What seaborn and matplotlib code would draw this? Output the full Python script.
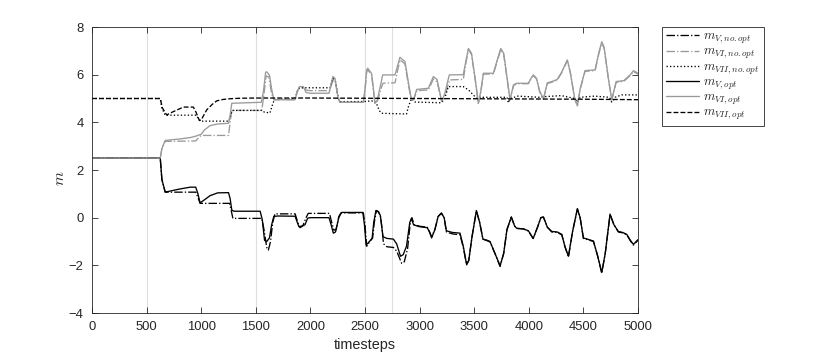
import numpy as np
import pandas as pd
import matplotlib
matplotlib.use("Agg")
import matplotlib.pyplot as plt
import seaborn as sns

# ---------------- data ----------------
# m_V, no.opt  (black dash-dot)
t_V_noopt = [0, 625, 640, 670, 950, 970, 990, 1260, 1275, 1290, 1555, 1575, 1600, 1615, 1635, 1655, 1675,
             1860, 1885, 1905, 1930, 1960, 1980, 2175, 2195, 2215, 2235, 2260, 2280, 2485, 2500, 2515, 2545,
             2570, 2585, 2605, 2625, 2645, 2670, 2700, 2760, 2790, 2836, 2860, 2890, 2915, 2930, 2950, 3000,
             3070, 3090, 3110, 3140, 3170, 3200, 3225, 3245, 3300, 3370, 3400, 3430, 3450, 3480, 3520, 3550,
             3580, 3620, 3645, 3690, 3737, 3770, 3800, 3840, 3870, 3890, 3950, 3996, 4040, 4080, 4110, 4134,
             4170, 4210, 4260, 4302, 4330, 4363, 4400, 4445, 4470, 4500, 4550, 4592, 4630, 4668, 4700, 4744,
             4780, 4820, 4860, 4897, 4930, 4958, 5000]
m_V_noopt = [2.5, 2.5, 1.6, 1.07, 1.07, 0.85, 0.6, 0.6, 0.3, -0.03, -0.03, -0.5, -1.25, -1.36, -1.0, -0.2, 0.16,
             0.16, -0.2, -0.42, -0.35, 0.0, 0.18, 0.18, -0.2, -0.52, -0.5, 0.05, 0.2, 0.2, -0.3, -1.2, -1.0,
             -0.85, -0.2, 0.3, 0.25, 0.0, -1.1, -1.22, -1.25, -1.4, -1.92, -1.85, -1.3, -0.2, 0.0, -0.3, -0.36,
             -0.4, -0.58, -0.8, -0.5, 0.05, 0.2, 0.0, -0.6, -0.68, -0.72, -1.25, -1.98, -1.8, -0.8, 0.28, -0.2,
             -0.9, -0.97, -1.02, -1.5, -2.05, -1.5, -0.5, 0.02, -0.35, -0.45, -0.47, -0.56, -0.88, -0.4, 0.0, 0.02,
             -0.4, -0.6, -0.62, -0.72, -1.2, -1.65, -0.6, 0.36, 0.0, -0.87, -0.94, -1.0, -1.6, -2.33, -1.5, 0.13,
             -0.3, -0.6, -0.64, -0.72, -0.97, -1.15, -0.95]

# m_VI, no.opt  (grey dash-dot)
t_VI_noopt = [0, 625, 640, 670, 950, 975, 1000, 1250, 1265, 1280, 1555, 1575, 1595, 1620, 1645, 1665, 1860,
              1880, 1900, 1935, 1960, 2000, 2175, 2195, 2210, 2230, 2255, 2270, 2485, 2500, 2515, 2525, 2560,
              2575, 2591, 2615, 2645, 2665, 2775, 2800, 2821, 2866, 2900, 2925, 2945, 2975, 3080, 3105, 3126,
              3160, 3202, 3230, 3275, 3400, 3425, 3447, 3475, 3510, 3538, 3560, 3584, 3676, 3710, 3743, 3770,
              3800, 3828, 3860, 3890, 3996, 4020, 4042, 4070, 4100, 4134, 4170, 4210, 4260, 4300, 4353, 4380,
              4420, 4445, 4470, 4515, 4607, 4640, 4668, 4690, 4730, 4760, 4800, 4870, 4930, 4958, 5000]
m_VI_noopt = [2.5, 2.5, 2.9, 3.2, 3.22, 3.35, 3.45, 3.45, 4.0, 4.5, 4.5, 5.2, 5.95, 5.9, 5.2, 4.95, 4.95,
              5.3, 5.45, 5.45, 5.35, 5.33, 5.33, 5.6, 5.78, 5.7, 5.0, 4.84, 4.84, 5.3, 6.1, 6.2, 6.0,
              5.4, 4.8, 4.9, 5.4, 5.64, 5.66, 6.2, 6.62, 6.45, 5.5, 4.95, 4.95, 5.33, 5.36, 5.6, 5.82,
              5.7, 4.88, 5.1, 5.78, 5.8, 6.5, 7.05, 6.85, 5.75, 4.8, 5.25, 6.02, 6.03, 6.55, 7.05, 6.85,
              5.85, 4.95, 5.54, 5.62, 5.62, 5.82, 5.96, 5.82, 5.28, 4.98, 5.63, 5.68, 5.77, 6.07, 6.58, 6.08,
              5.0, 4.7, 5.38, 6.14, 6.17, 6.85, 7.33, 7.1, 5.78, 4.95, 5.68, 5.72, 5.97, 6.13, 6.02]

# m_VII, no.opt  (black dotted)
t_VII_noopt = [0, 625, 640, 670, 955, 975, 990, 1255, 1270, 1285, 1560, 1580, 1630, 1650, 1670, 1860, 1880,
               1900, 2180, 2195, 2210, 2230, 2255, 2275, 2490, 2560, 2600, 2630, 2652, 2880, 2900, 2927, 2960,
               3200, 3230, 3263, 3400, 3450, 3523, 3560, 3800, 3813, 3830, 3900, 4100, 4150, 4300, 4420, 4445,
               4470, 4600, 4740, 4760, 4790, 4850, 5000]
m_VII_noopt = [5.0, 5.0, 4.6, 4.3, 4.3, 4.15, 4.05, 4.05, 4.3, 4.5, 4.5, 4.42, 4.4, 4.7, 4.96, 4.98, 5.3,
               5.45, 5.45, 5.7, 5.85, 5.7, 5.0, 4.87, 4.87, 4.9, 4.85, 4.5, 4.38, 4.35, 4.7, 5.0, 4.85,
               4.82, 5.0, 5.5, 5.5, 5.35, 5.0, 5.05, 5.05, 4.82, 5.0, 5.1, 5.05, 5.08, 5.12, 5.0, 4.85,
               5.05, 5.1, 5.05, 4.85, 5.05, 5.15, 5.15]

# m_V, opt  (black solid)
t_V_opt = [0, 625, 640, 670, 700, 800, 900, 950, 970, 990, 1030, 1080, 1150, 1250, 1265, 1280, 1300, 1540,
           1560, 1580, 1600, 1625, 1645, 1665, 1700, 1860, 1880, 1895, 1920, 1950, 1975, 2000, 2170, 2190,
           2210, 2230, 2260, 2285, 2480, 2495, 2510, 2540, 2565, 2580, 2600, 2620, 2640, 2665, 2700, 2760,
           2790, 2825, 2850, 2880, 2910, 2925, 2945, 3000, 3070, 3090, 3110, 3140, 3170, 3200, 3225, 3245,
           3300, 3370, 3400, 3430, 3450, 3480, 3520, 3550, 3580, 3620, 3645, 3690, 3737, 3770, 3800, 3840,
           3870, 3890, 3950, 3996, 4040, 4080, 4110, 4134, 4170, 4210, 4260, 4302, 4330, 4363, 4400, 4445,
           4470, 4500, 4550, 4592, 4630, 4668, 4700, 4744, 4780, 4820, 4860, 4897, 4930, 4958, 5000]
m_V_opt = [2.5, 2.5, 1.6, 1.08, 1.1, 1.2, 1.28, 1.28, 1.0, 0.62, 0.75, 0.92, 1.04, 1.05, 0.8, 0.32, 0.27, 0.27,
           -0.1, -0.95, -1.0, -0.85, -0.3, 0.05, 0.07, 0.06, -0.2, -0.38, -0.35, -0.3, -0.02, 0.0, 0.0, -0.3,
           -0.65, -0.6, 0.0, 0.22, 0.22, -0.3, -1.15, -1.0, -0.87, -0.2, 0.3, 0.25, 0.1, -0.8, -0.87, -0.9,
           -1.1, -1.62, -1.55, -1.2, -0.2, -0.03, -0.3, -0.38, -0.42, -0.6, -0.85, -0.5, 0.05, 0.18, 0.0, -0.55,
           -0.62, -0.65, -1.2, -1.95, -1.8, -0.8, 0.3, -0.2, -0.9, -0.95, -1.0, -1.5, -2.02, -1.5, -0.5, 0.03,
           -0.35, -0.45, -0.47, -0.55, -0.87, -0.4, 0.0, 0.03, -0.4, -0.58, -0.6, -0.7, -1.2, -1.62, -0.6, 0.38,
           0.0, -0.85, -0.92, -0.98, -1.6, -2.3, -1.5, 0.15, -0.3, -0.58, -0.62, -0.7, -0.95, -1.12, -0.92]

# m_VI, opt  (grey solid)
t_VI_opt = [0, 625, 640, 670, 800, 900, 950, 1000, 1030, 1080, 1150, 1250, 1265, 1280, 1550, 1570, 1590, 1600,
            1625, 1645, 1665, 1860, 1880, 1900, 1935, 1960, 2000, 2170, 2190, 2205, 2225, 2250, 2270, 2485,
            2500, 2515, 2525, 2560, 2575, 2591, 2610, 2640, 2662, 2775, 2800, 2820, 2866, 2900, 2925, 2945,
            2973, 3080, 3105, 3126, 3160, 3202, 3230, 3272, 3400, 3425, 3447, 3475, 3510, 3538, 3560, 3584,
            3676, 3710, 3743, 3770, 3800, 3828, 3860, 3890, 3996, 4020, 4042, 4070, 4100, 4134, 4170, 4210,
            4260, 4300, 4353, 4380, 4420, 4445, 4470, 4515, 4607, 4640, 4668, 4690, 4730, 4760, 4800, 4870,
            4930, 4958, 5000]
m_VI_opt = [2.5, 2.5, 2.9, 3.24, 3.3, 3.36, 3.42, 3.5, 3.68, 3.86, 3.93, 3.96, 4.3, 4.8, 4.84, 5.3, 6.1, 6.12,
            5.98, 5.4, 4.95, 4.95, 5.3, 5.5, 5.5, 5.25, 5.22, 5.22, 5.6, 5.92, 5.85, 5.1, 4.84, 4.84,
            5.4, 6.2, 6.27, 6.05, 5.5, 4.8, 4.9, 5.5, 5.99, 5.99, 6.4, 6.73, 6.55, 5.6, 4.95, 4.95,
            5.38, 5.43, 5.7, 5.92, 5.8, 4.88, 5.2, 5.99, 6.0, 6.6, 7.1, 6.9, 5.8, 4.8, 5.3, 6.06,
            6.06, 6.6, 7.1, 6.9, 5.9, 4.95, 5.57, 5.64, 5.64, 5.85, 5.99, 5.85, 5.3, 4.98, 5.66, 5.71,
            5.8, 6.1, 6.62, 6.1, 5.0, 4.69, 5.4, 6.17, 6.2, 6.9, 7.38, 7.15, 5.8, 4.95, 5.71, 5.75,
            6.0, 6.17, 6.06]

# m_VII, opt  (black dashed)
t_VII_opt = [0, 625, 645, 684, 745, 837, 928, 950, 983, 1000, 1050, 1100, 1142, 1200, 1264, 1350, 1500, 2000,
             2500, 3000, 3500, 4000, 4500, 5000]
m_VII_opt = [5.0, 5.0, 4.6, 4.31, 4.45, 4.64, 4.64, 4.45, 4.08, 4.1, 4.52, 4.75, 4.9, 4.96, 4.99, 5.01, 5.02,
             5.02, 5.01, 5.0, 4.99, 4.98, 4.97, 4.95]

marker_times = [500, 1500, 2500, 2750]
x_ticks = list(range(0, 5001, 500))
y_ticks = list(range(-4, 9, 2))

labels = [r"$m_{V,no.opt}$", r"$m_{VI,no.opt}$", r"$m_{VII,no.opt}$",
          r"$m_{V,opt}$", r"$m_{VI,opt}$", r"$m_{VII,opt}$"]

# ---------------- styling ----------------
sns.set_style("white")
plt.rcParams["font.family"] = ["Liberation Sans", "DejaVu Sans"]
plt.rcParams["mathtext.fontset"] = "cm"

AX_COL = "#262626"
GREY = "#9a9a9a"

fig = plt.figure(figsize=(8.3, 3.55), dpi=100)
ax = fig.add_axes([92 / 830, 1 - 313 / 355, 546 / 830, 286 / 355])

for xv in marker_times:
    ax.axvline(xv, color="#dedede", lw=0.8, zorder=0)

series = [
    (t_V_noopt, m_V_noopt, "black", "-."),
    (t_VI_noopt, m_VI_noopt, GREY, "-."),
    (t_VII_noopt, m_VII_noopt, "black", ":"),
    (t_V_opt, m_V_opt, "black", "-"),
    (t_VI_opt, m_VI_opt, GREY, "-"),
    (t_VII_opt, m_VII_opt, "black", "--"),
]
for (tt, mm, col, ls), lab in zip(series, labels):
    df = pd.DataFrame({"t": tt, "m": mm})
    sns.lineplot(data=df, x="t", y="m", ax=ax, color=col, linestyle=ls,
                 linewidth=0.95, label=lab, estimator=None, sort=False)

ax.set_xlim(0, 5000)
ax.set_ylim(-4, 8)
ax.set_xticks(x_ticks)
ax.set_yticks(y_ticks)
ax.tick_params(direction="in", length=4, width=0.6, colors=AX_COL, labelsize=9.4,
               top=True, right=True, bottom=True, left=True, pad=6)
for sp in ax.spines.values():
    sp.set_visible(True)
    sp.set_color(AX_COL)
    sp.set_linewidth(0.6)

ax.set_xlabel("timesteps", fontsize=10.4, color=AX_COL, labelpad=3)
ax.set_ylabel(r"$m$", fontsize=11.5, color=AX_COL)
ax.yaxis.set_label_coords(-0.045, 0.47)

leg = ax.legend(loc="upper left", bbox_to_anchor=(662 / 830, 1 - 27 / 355),
                bbox_transform=fig.transFigure, borderaxespad=0, fontsize=9.3,
                handlelength=2.6, handletextpad=0.3, labelspacing=0.0,
                borderpad=0.3, frameon=True, fancybox=False, framealpha=1)
leg.get_frame().set_edgecolor(AX_COL)
leg.get_frame().set_linewidth(0.6)

fig.savefig("out.png", dpi=100)
